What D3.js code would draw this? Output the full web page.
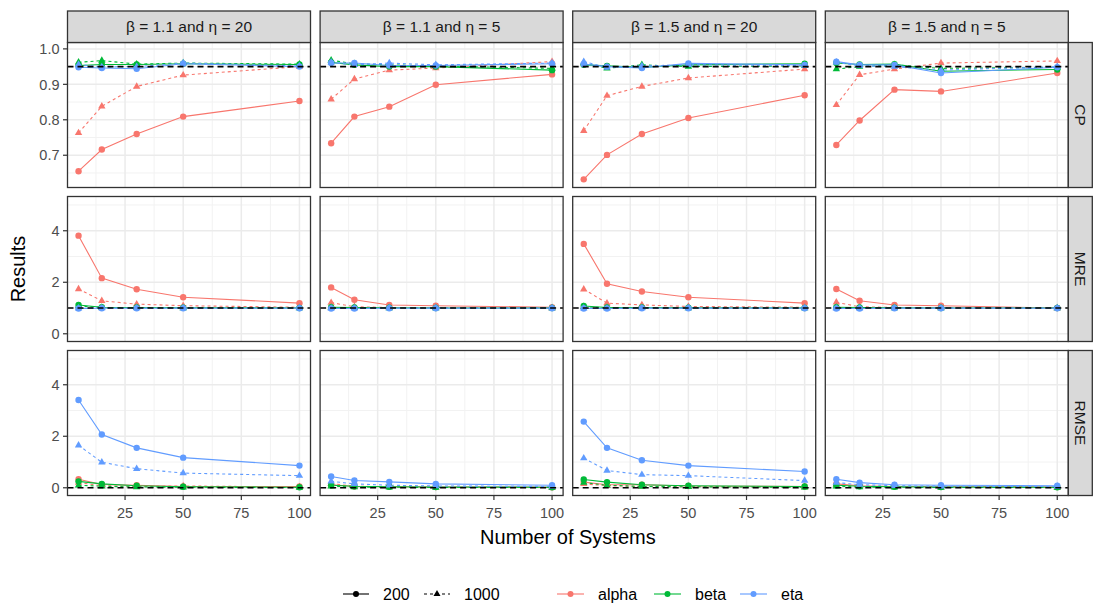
<!DOCTYPE html>
<html>
<head>
<meta charset="utf-8">
<script src="https://cdn.jsdelivr.net/npm/d3@7"></script>
<style>
  body { margin: 0; background: #fff; }
  text { font-family: "Liberation Sans", Arial, sans-serif; }
</style>
</head>
<body>
<div id="chart"></div>
<script>
// x values (number of systems)
var systems = [5, 15, 30, 50, 100];
var panelLabels = ["\u03b2 = 1.1 and \u03b7 = 20", "\u03b2 = 1.1 and \u03b7 = 5", "\u03b2 = 1.5 and \u03b7 = 20", "\u03b2 = 1.5 and \u03b7 = 5"];
var metrics = ["CP", "MRE", "RMSE"];
var params = ["alpha", "beta", "eta"];
var sampleSizes = ["200", "1000"];
var refLines = [0.95, 1, 0];
var cpTicks = [0.7, 0.8, 0.9, 1.0];
var otherTicks = [0, 2, 4];
var xTicks = [25, 50, 75, 100];

// each array: alpha200, alpha1000, beta200, beta1000, eta200, eta1000
var cp11_20 = [
  [0.655, 0.716, 0.760, 0.809, 0.853],
  [0.763, 0.838, 0.894, 0.926, 0.950],
  [0.953, 0.956, 0.956, 0.958, 0.956],
  [0.962, 0.967, 0.957, 0.960, 0.957],
  [0.948, 0.946, 0.944, 0.958, 0.950],
  [0.956, 0.949, 0.950, 0.960, 0.952]
];
var cp11_5 = [
  [0.734, 0.809, 0.837, 0.899, 0.928],
  [0.858, 0.915, 0.940, 0.946, 0.964],
  [0.962, 0.955, 0.950, 0.950, 0.940],
  [0.968, 0.958, 0.955, 0.952, 0.945],
  [0.960, 0.960, 0.953, 0.953, 0.958],
  [0.962, 0.955, 0.960, 0.955, 0.960]
];
var cp15_20 = [
  [0.632, 0.701, 0.760, 0.805, 0.869],
  [0.769, 0.868, 0.894, 0.918, 0.943],
  [0.955, 0.952, 0.948, 0.955, 0.958],
  [0.960, 0.945, 0.955, 0.950, 0.952],
  [0.957, 0.950, 0.946, 0.959, 0.955],
  [0.964, 0.948, 0.952, 0.955, 0.953]
];
var cp15_5 = [
  [0.729, 0.798, 0.885, 0.880, 0.932],
  [0.842, 0.927, 0.943, 0.960, 0.966],
  [0.960, 0.956, 0.957, 0.937, 0.942],
  [0.943, 0.950, 0.955, 0.945, 0.948],
  [0.964, 0.955, 0.955, 0.932, 0.948],
  [0.962, 0.952, 0.950, 0.940, 0.950]
];
var mre11_20 = [
  [3.81, 2.16, 1.73, 1.42, 1.19],
  [1.74, 1.28, 1.15, 1.09, 1.03],
  [1.12, 1.03, 1.02, 1.01, 1.00],
  [1.08, 1.02, 1.01, 1.00, 1.00],
  [0.98, 0.99, 0.99, 0.99, 0.99],
  [0.99, 1.00, 1.00, 1.00, 1.00]
];
var mre11_5 = [
  [1.80, 1.32, 1.12, 1.09, 1.03],
  [1.21, 1.05, 1.02, 1.01, 1.00],
  [1.03, 1.02, 1.01, 1.00, 1.00],
  [1.02, 1.01, 1.00, 1.00, 1.00],
  [0.98, 0.98, 0.99, 0.99, 0.99],
  [0.99, 0.99, 1.00, 1.00, 1.00]
];
var mre15_20 = [
  [3.49, 1.94, 1.64, 1.42, 1.19],
  [1.73, 1.19, 1.12, 1.06, 1.03],
  [1.08, 1.02, 1.02, 1.01, 1.00],
  [1.05, 1.01, 1.01, 1.00, 1.00],
  [0.98, 0.98, 0.99, 0.99, 0.99],
  [0.99, 0.99, 1.00, 1.00, 1.00]
];
var mre15_5 = [
  [1.74, 1.28, 1.12, 1.09, 1.00],
  [1.22, 1.05, 1.02, 1.01, 1.00],
  [1.03, 1.02, 1.01, 1.00, 1.00],
  [1.02, 1.01, 1.00, 1.00, 1.00],
  [0.98, 0.98, 0.99, 0.99, 0.99],
  [0.99, 0.99, 1.00, 1.00, 1.00]
];
var rmse11_20 = [
  [0.33, 0.13, 0.10, 0.05, 0.05],
  [0.20, 0.08, 0.05, 0.07, 0.03],
  [0.25, 0.15, 0.08, 0.04, 0.02],
  [0.10, 0.06, 0.03, 0.02, 0.01],
  [3.41, 2.07, 1.55, 1.17, 0.86],
  [1.65, 0.99, 0.74, 0.57, 0.47]
];
var rmse11_5 = [
  [0.12, 0.05, 0.04, 0.03, 0.02],
  [0.16, 0.06, 0.04, 0.03, 0.02],
  [0.10, 0.06, 0.04, 0.03, 0.02],
  [0.06, 0.03, 0.02, 0.01, 0.01],
  [0.44, 0.28, 0.23, 0.15, 0.10],
  [0.25, 0.15, 0.10, 0.07, 0.05]
];
var rmse15_20 = [
  [0.22, 0.12, 0.12, 0.07, 0.05],
  [0.15, 0.08, 0.05, 0.04, 0.03],
  [0.32, 0.22, 0.12, 0.08, 0.05],
  [0.20, 0.10, 0.05, 0.04, 0.02],
  [2.57, 1.55, 1.07, 0.86, 0.63],
  [1.15, 0.67, 0.51, 0.47, 0.28]
];
var rmse15_5 = [
  [0.15, 0.08, 0.05, 0.04, 0.03],
  [0.12, 0.06, 0.04, 0.03, 0.02],
  [0.10, 0.06, 0.04, 0.03, 0.02],
  [0.06, 0.03, 0.02, 0.01, 0.01],
  [0.33, 0.20, 0.12, 0.10, 0.08],
  [0.20, 0.12, 0.08, 0.06, 0.05]
];

var grid = [
  [cp11_20, cp11_5, cp15_20, cp15_5],
  [mre11_20, mre11_5, mre15_20, mre15_5],
  [rmse11_20, rmse11_5, rmse15_20, rmse15_5]
];

var width = 1094, height = 604;
var left0 = 67.5, pw = 243, gapX = 9.6;
var top0 = 42.5, ph = 145, gapY = 9;
var stripH = 31.5, stripW = 24;

var colors = {alpha: "#F8766D", beta: "#00BA38", eta: "#619CFF"};
var dash = {"200": null, "1000": "3,3"};

var svg = d3.select("#chart").append("svg")
    .attr("width", width)
    .attr("height", height);

var x = d3.scaleLinear().domain([0.25, 104.75]).range([0, pw]);
var yCP = d3.scaleLinear().domain([0.609, 1.018]).range([ph, 0]);
var yOther = d3.scaleLinear().domain([-0.3, 5.33]).range([ph, 0]);

var defs = svg.append("defs");
defs.append("clipPath").attr("id", "clip")
    .append("rect").attr("width", pw).attr("height", ph);

function tri(cx, cy, s) {
    var h = s * 0.866;
    return "M" + cx + "," + (cy - h * 0.66) + "L" + (cx + s / 2) + "," + (cy + h * 0.34) + "L" + (cx - s / 2) + "," + (cy + h * 0.34) + "Z";
}

metrics.forEach(function(metric, r) {
    var y = r == 0 ? yCP : yOther;
    var yTicks = r == 0 ? cpTicks : otherTicks;
    var yMinor = r == 0 ? [0.65, 0.75, 0.85, 0.95] : [1, 3, 5];
    var py = top0 + r * (ph + gapY);

    panelLabels.forEach(function(lab, c) {
        var px = left0 + c * (pw + gapX);
        var g = svg.append("g").attr("transform", "translate(" + px + "," + py + ")");

        g.append("rect").attr("width", pw).attr("height", ph).attr("fill", "#fff");

        // grid
        var xMinor = [12.5, 37.5, 62.5, 87.5];
        g.selectAll(".xmin").data(xMinor).enter().append("line")
            .attr("x1", d => x(d)).attr("x2", d => x(d))
            .attr("y1", 0).attr("y2", ph)
            .attr("stroke", "#F2F2F2").attr("stroke-width", 1);
        g.selectAll(".ymin").data(yMinor).enter().append("line")
            .attr("x1", 0).attr("x2", pw)
            .attr("y1", d => y(d)).attr("y2", d => y(d))
            .attr("stroke", "#F2F2F2").attr("stroke-width", 1);
        g.selectAll(".xmaj").data(xTicks).enter().append("line")
            .attr("x1", d => x(d)).attr("x2", d => x(d))
            .attr("y1", 0).attr("y2", ph)
            .attr("stroke", "#EBEBEB").attr("stroke-width", 1.5);
        g.selectAll(".ymaj").data(yTicks).enter().append("line")
            .attr("x1", 0).attr("x2", pw)
            .attr("y1", d => y(d)).attr("y2", d => y(d))
            .attr("stroke", "#EBEBEB").attr("stroke-width", 1.5);

        var data = grid[r][c];
        var plot = g.append("g").attr("clip-path", "url(#clip)");
        var line = d3.line().x((d, i) => x(systems[i])).y(d => y(d));

        params.forEach(function(p, pi) {
            sampleSizes.forEach(function(s, si) {
                plot.append("path")
                    .attr("d", line(data[pi * 2 + si]))
                    .attr("fill", "none")
                    .attr("stroke", colors[p])
                    .attr("stroke-width", 1.1)
                    .attr("stroke-dasharray", dash[s]);
            });
        });
        params.forEach(function(p, pi) {
            sampleSizes.forEach(function(s, si) {
                data[pi * 2 + si].forEach(function(v, i) {
                    if (s == "200") {
                        plot.append("circle")
                            .attr("cx", x(systems[i])).attr("cy", y(v))
                            .attr("r", 3.2).attr("fill", colors[p]);
                    } else {
                        plot.append("path")
                            .attr("d", tri(x(systems[i]), y(v), 7.4))
                            .attr("fill", colors[p]);
                    }
                });
            });
        });

        // reference line
        plot.append("line")
            .attr("x1", 0).attr("x2", pw)
            .attr("y1", y(refLines[r])).attr("y2", y(refLines[r]))
            .attr("stroke", "#000").attr("stroke-width", 1.6)
            .attr("stroke-dasharray", "6,4");

        g.append("rect").attr("width", pw).attr("height", ph)
            .attr("fill", "none").attr("stroke", "#333333").attr("stroke-width", 1.3);

        // y axis on first column
        if (c == 0) {
            yTicks.forEach(function(t) {
                g.append("line").attr("x1", -4.5).attr("x2", 0)
                    .attr("y1", y(t)).attr("y2", y(t))
                    .attr("stroke", "#333333").attr("stroke-width", 1.2);
                g.append("text").attr("x", -8).attr("y", y(t))
                    .attr("dy", "0.36em").attr("text-anchor", "end")
                    .attr("font-size", 14.5).attr("fill", "#4D4D4D")
                    .text(r == 0 ? d3.format(".1f")(t) : t);
            });
        }
        // x axis on bottom row
        if (r == metrics.length - 1) {
            xTicks.forEach(function(t) {
                g.append("line").attr("x1", x(t)).attr("x2", x(t))
                    .attr("y1", ph).attr("y2", ph + 4.5)
                    .attr("stroke", "#333333").attr("stroke-width", 1.2);
                g.append("text").attr("x", x(t)).attr("y", ph + 22)
                    .attr("text-anchor", "middle")
                    .attr("font-size", 14.5).attr("fill", "#4D4D4D")
                    .text(t);
            });
        }
        // top strip
        if (r == 0) {
            g.append("rect").attr("y", -stripH).attr("width", pw).attr("height", stripH)
                .attr("fill", "#D9D9D9").attr("stroke", "#333333").attr("stroke-width", 1.3);
            g.append("text").attr("x", pw / 2).attr("y", -stripH / 2)
                .attr("dy", "0.36em").attr("text-anchor", "middle")
                .attr("font-size", 15.5).attr("fill", "#1A1A1A")
                .text(lab);
        }
        // right strip
        if (c == panelLabels.length - 1) {
            g.append("rect").attr("x", pw).attr("width", stripW).attr("height", ph)
                .attr("fill", "#D9D9D9").attr("stroke", "#333333").attr("stroke-width", 1.3);
            g.append("text")
                .attr("transform", "translate(" + (pw + stripW / 2) + "," + (ph / 2) + ") rotate(90)")
                .attr("dy", "0.36em").attr("text-anchor", "middle")
                .attr("font-size", 15.5).attr("fill", "#1A1A1A")
                .text(metric);
        }
    });
});

// axis titles
var totalW = 4 * pw + 3 * gapX;
svg.append("text")
    .attr("x", left0 + totalW / 2).attr("y", 544)
    .attr("text-anchor", "middle").attr("font-size", 20).attr("fill", "#000")
    .text("Number of Systems");
svg.append("text")
    .attr("transform", "translate(25," + (top0 + (3 * ph + 2 * gapY) / 2) + ") rotate(-90)")
    .attr("text-anchor", "middle").attr("font-size", 20).attr("fill", "#000")
    .text("Results");

// legends
var ly = 594;
var lg = svg.append("g");
var ltKeys = [{label: "200", x: 343, dash: null, shape: "circle"}, {label: "1000", x: 424, dash: "3,3", shape: "tri"}];
ltKeys.forEach(function(k) {
    lg.append("line").attr("x1", k.x).attr("x2", k.x + 26).attr("y1", ly).attr("y2", ly)
        .attr("stroke", "#000").attr("stroke-width", 1.1).attr("stroke-dasharray", k.dash);
    if (k.shape == "circle") {
        lg.append("circle").attr("cx", k.x + 13).attr("cy", ly).attr("r", 3).attr("fill", "#000");
    } else {
        lg.append("path").attr("d", tri(k.x + 13, ly, 7)).attr("fill", "#000");
    }
    lg.append("text").attr("x", k.x + 40).attr("y", ly).attr("dy", "0.36em")
        .attr("font-size", 16).attr("fill", "#000").text(k.label);
});
var colKeys = [557, 654, 740];
params.forEach(function(p, i) {
    var kx = colKeys[i];
    lg.append("line").attr("x1", kx).attr("x2", kx + 27).attr("y1", ly).attr("y2", ly)
        .attr("stroke", colors[p]).attr("stroke-width", 1.1);
    lg.append("circle").attr("cx", kx + 13.5).attr("cy", ly).attr("r", 3).attr("fill", colors[p]);
    lg.append("text").attr("x", kx + 41).attr("y", ly).attr("dy", "0.36em")
        .attr("font-size", 16).attr("fill", "#000").text(p);
});
</script>
</body>
</html>
